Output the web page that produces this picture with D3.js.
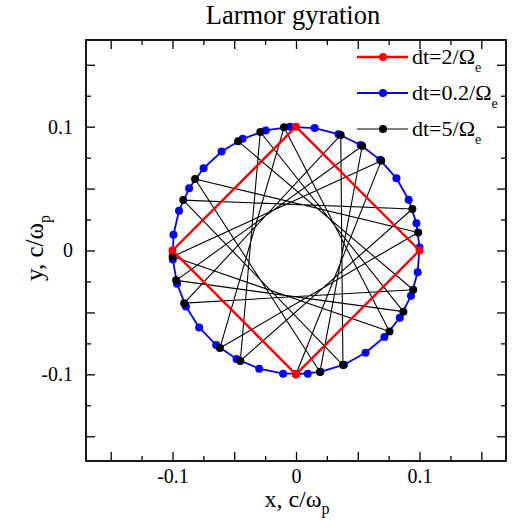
<!DOCTYPE html>
<html>
<head>
<meta charset="utf-8">
<script src="https://cdn.jsdelivr.net/npm/d3@7"></script>
<style>
  html, body { margin: 0; padding: 0; background: #fff; }
  svg { display: block; }
  text { font-family: "Liberation Serif", "Times New Roman", serif; fill: #000; }
</style>
</head>
<body>
<svg id="chart" width="516" height="532"></svg>
<script>
// ---- data ----
const titleText = "Larmor gyration";
const seriesNames = ["dt=2/Ω", "dt=0.2/Ω", "dt=5/Ω"];
const seriesColors = ["#ff0000", "#0000ff", "#000000"];

// dt = 2/Omega_e  (red)
const redX = [0.0000, 0.1000, 0.0000, -0.1000, 0.0000];
const redY = [-0.1000, 0.0000, 0.1000, 0.0000, -0.1000];

// dt = 0.2/Omega_e  (blue)
const blueX = [0.0000, 0.0198, 0.0388, 0.0563, 0.0716, 0.0840, 0.0931, 0.0985, 0.1000, 0.0975,
               0.0912, 0.0813, 0.0681, 0.0523, 0.0344, 0.0151, -0.0048, -0.0245, -0.0432, -0.0602,
               -0.0748, -0.0865, -0.0947, -0.0992, -0.0997, -0.0963, -0.0891, -0.0784, -0.0646, -0.0481,
               -0.0298, -0.0104, 0.0095];
const blueY = [-0.1000, -0.0980, -0.0922, -0.0826, -0.0699, -0.0543, -0.0366, -0.0175, 0.0024, 0.0221,
               0.0410, 0.0583, 0.0732, 0.0852, 0.0939, 0.0989, 0.0999, 0.0970, 0.0902, 0.0799,
               0.0664, 0.0502, 0.0321, 0.0127, -0.0072, -0.0268, -0.0453, -0.0621, -0.0764, -0.0876,
               -0.0954, -0.0995, -0.0995];

// dt = 5/Omega_e  (black)
const blackX = [0.0000, 0.0690, -0.0999, 0.0757, -0.0097, -0.0616, 0.0989, -0.0817, 0.0194, 0.0536,
                -0.0970, 0.0869, -0.0289, -0.0451, 0.0942, -0.0913, 0.0380, 0.0362, -0.0905, 0.0949,
                -0.0469];
const blackY = [-0.1000, 0.0724, -0.0049, -0.0654, 0.0995, -0.0788, 0.0146, 0.0577, -0.0981, 0.0844,
                -0.0241, -0.0494, 0.0957, -0.0892, 0.0335, 0.0407, -0.0925, 0.0932, -0.0425, -0.0317,
                0.0883];

const xDomain = [-0.17, 0.17];
const yDomain = [-0.17, 0.17];
const majorTicks = [-0.15, -0.1, -0.05, 0, 0.05, 0.1, 0.15];
const minorTicks = [-0.125, -0.075, -0.025, 0.025, 0.075, 0.125];
const labelTicks = [-0.1, 0, 0.1];

// ---- layout ----
const L = 86, R = 506, T = 40, B = 461;
const svg = d3.select("#chart");
const x = d3.scaleLinear().domain(xDomain).range([L, R]);
const y = d3.scaleLinear().domain(yDomain).range([B, T]);

const fmt = d => labelTicks.includes(d) ? (d === 0 ? "0" : String(d)) : "";

// ---- series ----
const zip = (xs, ys) => xs.map((v, i) => [v, ys[i]]);
const series = [
  { pts: zip(blueX, blueY), color: seriesColors[1], lw: 1.8, r: 4 },
  { pts: zip(blackX, blackY), color: seriesColors[2], lw: 1.1, r: 4 },
  { pts: zip(redX, redY), color: seriesColors[0], lw: 2.4, r: 4 }
];
const line = d3.line().x(d => x(d[0])).y(d => y(d[1]));
const plot = svg.append("g");
series.forEach(s => {
  plot.append("path").attr("d", line(s.pts)).attr("fill", "none")
    .attr("stroke", s.color).attr("stroke-width", s.lw).attr("stroke-linejoin", "round");
  plot.selectAll(null).data(s.pts).enter().append("circle")
    .attr("cx", d => x(d[0])).attr("cy", d => y(d[1])).attr("r", s.r).attr("fill", s.color);
});

// ---- axes (inward ticks on all four sides) ----
function styleAxis(g) {
  g.select(".domain").remove();
  g.selectAll("line").attr("stroke", "#000").attr("stroke-width", 1.3);
  g.selectAll("text").style("font-family", '"Liberation Serif", "Times New Roman", serif')
    .attr("font-size", 20).attr("fill", "#000");
}
svg.append("g").attr("transform", `translate(0,${B})`)
  .call(d3.axisBottom(x).tickValues(majorTicks).tickSize(-9).tickPadding(8).tickFormat(fmt)).call(styleAxis);
svg.append("g").attr("transform", `translate(0,${B})`)
  .call(d3.axisBottom(x).tickValues(minorTicks).tickSize(-5).tickFormat("")).call(styleAxis);
svg.append("g").attr("transform", `translate(0,${T})`)
  .call(d3.axisTop(x).tickValues(majorTicks).tickSize(-9).tickFormat("")).call(styleAxis);
svg.append("g").attr("transform", `translate(0,${T})`)
  .call(d3.axisTop(x).tickValues(minorTicks).tickSize(-5).tickFormat("")).call(styleAxis);
svg.append("g").attr("transform", `translate(${L},0)`)
  .call(d3.axisLeft(y).tickValues(majorTicks).tickSize(-9).tickPadding(13).tickFormat(fmt)).call(styleAxis);
svg.append("g").attr("transform", `translate(${L},0)`)
  .call(d3.axisLeft(y).tickValues(minorTicks).tickSize(-5).tickFormat("")).call(styleAxis);
svg.append("g").attr("transform", `translate(${R},0)`)
  .call(d3.axisRight(y).tickValues(majorTicks).tickSize(-9).tickFormat("")).call(styleAxis);
svg.append("g").attr("transform", `translate(${R},0)`)
  .call(d3.axisRight(y).tickValues(minorTicks).tickSize(-5).tickFormat("")).call(styleAxis);

// frame
svg.append("rect").attr("x", L).attr("y", T).attr("width", R - L).attr("height", B - T)
  .attr("fill", "none").attr("stroke", "#000").attr("stroke-width", 1.8);

// ---- legend ----
const legY = [57, 93, 129];
seriesNames.forEach((name, i) => {
  const g = svg.append("g");
  const lw = [2.4, 1.8, 1.1][i];
  g.append("line").attr("x1", 357).attr("x2", 408).attr("y1", legY[i]).attr("y2", legY[i])
    .attr("stroke", seriesColors[i]).attr("stroke-width", lw);
  g.append("circle").attr("cx", 383).attr("cy", legY[i]).attr("r", 4).attr("fill", seriesColors[i]);
  const t = g.append("text").attr("x", 412).attr("y", legY[i] + 7).attr("font-size", 22);
  t.append("tspan").text(name);
  t.append("tspan").attr("font-size", 14).attr("dy", 8).text("e");
});

// ---- title & axis labels ----
svg.append("text").attr("x", 293).attr("y", 24).attr("text-anchor", "middle")
  .attr("font-size", 26.5).text(titleText);

const xl = svg.append("text").attr("x", 297).attr("y", 507).attr("text-anchor", "middle").attr("font-size", 24);
xl.append("tspan").text("x, c/ω");
xl.append("tspan").attr("font-size", 16).attr("dy", 7).text("p");

const yl = svg.append("text").attr("transform", "translate(43,248) rotate(-90)")
  .attr("text-anchor", "middle").attr("font-size", 25);
yl.append("tspan").text("y, c/ω");
yl.append("tspan").attr("font-size", 16).attr("dy", 7).text("p");
</script>
</body>
</html>
